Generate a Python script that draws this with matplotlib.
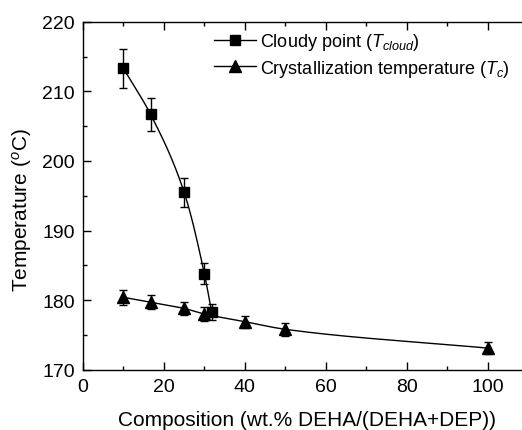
import numpy as np
import matplotlib
matplotlib.use("Agg")
import matplotlib.pyplot as plt
from matplotlib.ticker import MultipleLocator

plt.rcParams['font.family'] = ['Liberation Sans', 'DejaVu Sans']
plt.rcParams['mathtext.fontset'] = 'custom'
plt.rcParams['mathtext.rm'] = 'Liberation Sans'
plt.rcParams['mathtext.it'] = 'Liberation Sans:italic'

# Data
cloud_x = [10, 16.7, 25, 30, 31.8]
cloud_y = [213.3, 206.7, 195.5, 183.8, 178.3]
cloud_err = [2.8, 2.4, 2.1, 1.5, 1.2]

cryst_x = [10, 16.7, 25, 30, 40, 50, 100]
cryst_y = [180.4, 179.7, 178.8, 178.0, 176.9, 175.8, 173.1]
cryst_err = [1.05, 1.05, 0.9, 1.0, 0.85, 0.95, 0.9]

xticks = [0, 20, 40, 60, 80, 100]
yticks = [170, 180, 190, 200, 210, 220]


def pchip(x, y, n=400):
    x = np.asarray(x, float); y = np.asarray(y, float)
    h = np.diff(x); d = np.diff(y) / h
    m = np.zeros_like(x)
    for k in range(1, len(x) - 1):
        if d[k - 1] * d[k] > 0:
            w1 = 2 * h[k] + h[k - 1]; w2 = h[k] + 2 * h[k - 1]
            m[k] = (w1 + w2) / (w1 / d[k - 1] + w2 / d[k])
    m[0] = d[0]; m[-1] = d[-1]
    xs = np.linspace(x[0], x[-1], n)
    idx = np.clip(np.searchsorted(x, xs) - 1, 0, len(x) - 2)
    t = (xs - x[idx]) / h[idx]
    h00 = 2 * t**3 - 3 * t**2 + 1; h10 = t**3 - 2 * t**2 + t
    h01 = -2 * t**3 + 3 * t**2; h11 = t**3 - t**2
    ys = h00 * y[idx] + h10 * h[idx] * m[idx] + h01 * y[idx + 1] + h11 * h[idx] * m[idx + 1]
    return xs, ys


fig = plt.figure(figsize=(5.22, 4.31), dpi=100)
ax = fig.add_axes([0.159, 0.140, 0.8525, 0.807])

cx, cy = pchip(cloud_x, cloud_y)
ax.plot(cx, cy, color='black', lw=1.0)
tx, ty = pchip(cryst_x, cryst_y)
ax.plot(tx, ty, color='black', lw=1.0)

ax.errorbar(cloud_x, cloud_y, yerr=cloud_err, fmt='none', ecolor='black',
            elinewidth=1.0, capsize=3, capthick=1.0)
ax.errorbar(cryst_x, cryst_y, yerr=cryst_err, fmt='none', ecolor='black',
            elinewidth=1.0, capsize=3, capthick=1.0)
ax.plot(cloud_x, cloud_y, 's', color='black', ms=7.5, ls='none')
ax.plot(cryst_x, cryst_y, '^', color='black', ms=9, ls='none')

h1, = ax.plot([], [], '-s', color='black', ms=7.5, lw=1.0)
h2, = ax.plot([], [], '-^', color='black', ms=9, lw=1.0)
ax.legend([h1, h2], ['Cloudy point ($T_{cloud}$)', 'Crystallization temperature ($T_{c}$)'],
          loc='upper left', bbox_to_anchor=(0.279, 0.994), frameon=False,
          fontsize=13, handlelength=2.3, handletextpad=0.25, labelspacing=0.3,
          borderaxespad=0)

ax.set_xlim(0, 110)
ax.set_ylim(170, 220)
ax.set_xticks(xticks)
ax.set_yticks(yticks)
ax.xaxis.set_minor_locator(MultipleLocator(10))
ax.yaxis.set_minor_locator(MultipleLocator(5))
ax.tick_params(which='both', direction='in', top=True, right=False, labelsize=14)
ax.tick_params(which='major', length=6, width=1, pad=6)
ax.tick_params(which='minor', length=3, width=1)
for s in ax.spines.values():
    s.set_linewidth(1.0)

ax.set_xlabel('Composition (wt.% DEHA/(DEHA+DEP))', fontsize=15)
ax.xaxis.set_label_coords(0.503, -0.117)
ax.set_ylabel('Temperature ($^{o}$C)', fontsize=15)
ax.yaxis.set_label_coords(-0.109, 0.462)

fig.savefig('out.png', dpi=100)
